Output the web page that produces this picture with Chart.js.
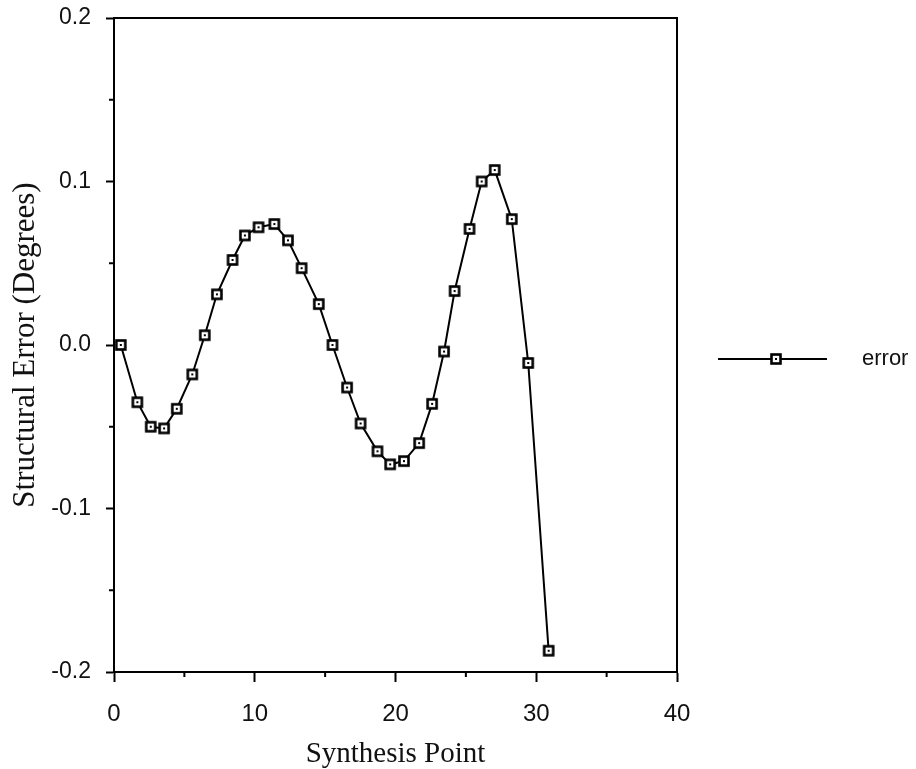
<!DOCTYPE html>
<html>
<head>
<meta charset="utf-8">
<title>Structural Error</title>
<script src="https://cdn.jsdelivr.net/npm/chart.js@4.4.1/dist/chart.umd.min.js"></script>
<style>
  html, body { margin: 0; padding: 0; background: #fff; }
  #wrap { width: 916px; height: 769px; }
</style>
</head>
<body>
<div id="wrap"><canvas id="errorChart" width="916" height="769"></canvas></div>
<script>
  'use strict';

  // values
  var synthesisPoint = [0.48, 1.66, 2.61, 3.56, 4.46, 5.56, 6.45, 7.31, 8.42, 9.3,
    10.27, 11.39, 12.36, 13.33, 14.55, 15.52, 16.56, 17.52, 18.72, 19.62,
    20.6, 21.68, 22.6, 23.45, 24.2, 25.26, 26.12, 27.05, 28.26, 29.43, 30.88];
  var structuralError = [0.000, -0.035, -0.050, -0.051, -0.039, -0.018, 0.006, 0.031, 0.052, 0.067,
    0.072, 0.074, 0.064, 0.047, 0.025, 0.000, -0.026, -0.048, -0.065, -0.073,
    -0.071, -0.060, -0.036, -0.004, 0.033, 0.071, 0.100, 0.107, 0.077, -0.011, -0.187];

  var xTicks = [0, 10, 20, 30, 40];
  var yTicks = [0.2, 0.1, 0.0, -0.1, -0.2];
  var xMinorTicks = [5, 15, 25, 35];
  var yMinorTicks = [0.15, 0.05, -0.05, -0.15];

  var sansFont = 'Liberation Sans, Arial, sans-serif';
  var serifFont = 'Liberation Serif, Times New Roman, serif';

  // square marker with a dot in the middle
  function makeMarker() {
    var c = document.createElement('canvas');
    c.width = 14;
    c.height = 14;
    var g = c.getContext('2d');
    g.fillStyle = '#fff';
    g.fillRect(2.5, 2.5, 9, 9);
    g.strokeStyle = '#000';
    g.lineWidth = 2.6;
    g.strokeRect(2.5, 2.5, 9, 9);
    g.fillStyle = '#000';
    g.fillRect(6, 6, 2, 2);
    return c;
  }
  var marker = makeMarker();

  // top + right edges of the box, and the short minor ticks
  var framePlugin = {
    id: 'frame',
    afterDraw: function (chart) {
      var ctx = chart.ctx;
      var a = chart.chartArea;
      var xs = chart.scales.x;
      var ys = chart.scales.y;
      ctx.save();
      ctx.strokeStyle = '#000';
      ctx.lineWidth = 2;
      ctx.beginPath();
      ctx.moveTo(a.left, a.top);
      ctx.lineTo(a.right, a.top);
      ctx.lineTo(a.right, a.bottom);
      xMinorTicks.forEach(function (v) {
        var px = xs.getPixelForValue(v);
        ctx.moveTo(px, a.bottom);
        ctx.lineTo(px, a.bottom + 5);
      });
      yMinorTicks.forEach(function (v) {
        var py = ys.getPixelForValue(v);
        ctx.moveTo(a.left, py);
        ctx.lineTo(a.left - 5, py);
      });
      ctx.stroke();
      ctx.restore();
    }
  };

  // legend on the right: line, marker, label
  var legendPlugin = {
    id: 'sideLegend',
    afterDraw: function (chart) {
      var ctx = chart.ctx;
      var ds = chart.data.datasets[0];
      var y = 359;
      ctx.save();
      ctx.strokeStyle = ds.borderColor;
      ctx.lineWidth = ds.borderWidth;
      ctx.beginPath();
      ctx.moveTo(718, y);
      ctx.lineTo(827, y);
      ctx.stroke();
      ctx.drawImage(marker, 776 - marker.width / 2, y - marker.height / 2);
      ctx.fillStyle = '#111';
      ctx.font = '22px ' + sansFont;
      ctx.textBaseline = 'middle';
      ctx.textAlign = 'left';
      ctx.fillText(ds.label, 862, y);
      ctx.restore();
    }
  };

  var points = synthesisPoint.map(function (x, i) {
    return { x: x, y: structuralError[i] };
  });

  new Chart(document.getElementById('errorChart').getContext('2d'), {
    type: 'line',
    data: {
      datasets: [
        {
          label: 'error',
          data: points,
          borderColor: '#000',
          borderWidth: 2,
          tension: 0,
          pointStyle: marker,
          pointRadius: 6,
          pointHoverRadius: 6,
          fill: false,
        },
      ],
    },
    options: {
      responsive: false,
      animation: false,
      layout: {
        padding: { left: 0, top: 18, right: 239, bottom: 0 }
      },
      plugins: {
        legend: { display: false },
        tooltip: { enabled: false }
      },
      scales: {
        x: {
          type: 'linear',
          min: 0,
          max: 40,
          afterBuildTicks: function (scale) {
            scale.ticks = xTicks.map(function (v) { return { value: v }; });
          },
          afterFit: function (scale) {
            scale.height = 97;
            scale.paddingLeft = 0;
            scale.paddingRight = 0;
          },
          grid: {
            drawOnChartArea: false,
            drawTicks: true,
            tickLength: 10,
            tickWidth: 2,
            tickColor: '#000'
          },
          border: { display: true, color: '#000', width: 2 },
          ticks: {
            color: '#111',
            padding: 18,
            maxRotation: 0,
            font: { family: sansFont, size: 24 },
            callback: function (v) { return String(v); }
          },
          title: {
            display: true,
            text: 'Synthesis Point',
            color: '#111',
            padding: 0,
            font: { family: serifFont, size: 29, lineHeight: 1 }
          }
        },
        y: {
          type: 'linear',
          min: -0.2,
          max: 0.2,
          afterBuildTicks: function (scale) {
            scale.ticks = yTicks.map(function (v) { return { value: v }; });
          },
          afterFit: function (scale) {
            scale.width = 114;
            scale.paddingTop = 0;
            scale.paddingBottom = 0;
          },
          grid: {
            drawOnChartArea: false,
            drawTicks: true,
            tickLength: 8,
            tickWidth: 2,
            tickColor: '#000'
          },
          border: { display: true, color: '#000', width: 2 },
          ticks: {
            color: '#111',
            padding: 15,
            font: { family: sansFont, size: 23 },
            callback: function (v) { return Number(v).toFixed(1); }
          },
          title: {
            display: true,
            text: 'Structural Error (Degrees)',
            color: '#111',
            padding: 10,
            font: { family: serifFont, size: 31, lineHeight: 1 }
          }
        }
      }
    },
    plugins: [framePlugin, legendPlugin]
  });
</script>
</body>
</html>
